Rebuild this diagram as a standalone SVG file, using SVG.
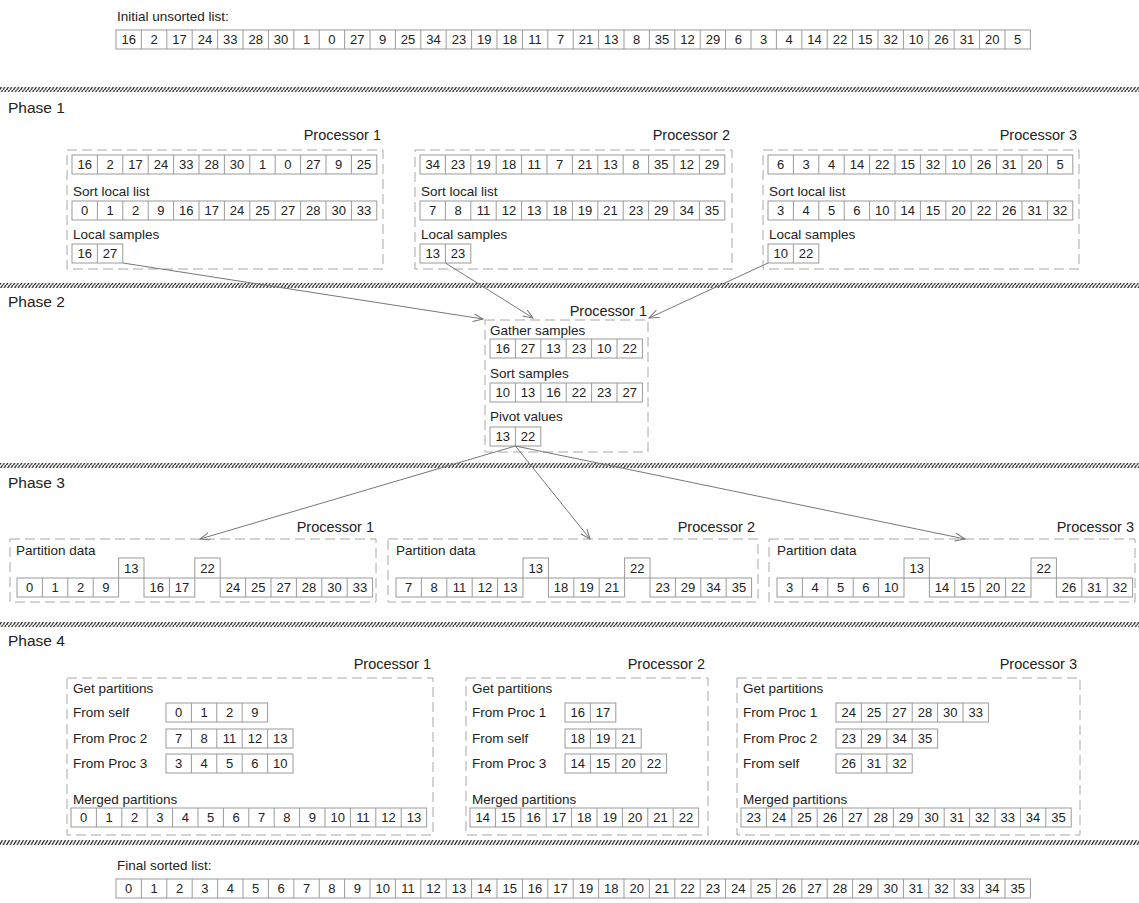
<svg xmlns="http://www.w3.org/2000/svg" width="1139" height="903" viewBox="0 0 1139 903">
<style>
text{font-family:"Liberation Sans",Arial,sans-serif;fill:#222}
.c{fill:#fff;stroke:#9a9a9a;stroke-width:1}
.dv{fill:none;stroke:#9a9a9a;stroke-width:1}
.n{font-size:13px;text-anchor:middle}
.l{font-size:13.5px}
.pr{font-size:14.5px;text-anchor:end}
.ph{font-size:15.5px}
.box{fill:none;stroke:#a8a8a8;stroke-width:1;stroke-dasharray:10 5}
.sep{fill:url(#hatch)}
.arr{fill:none;stroke:#777;stroke-width:1;marker-end:url(#ah)}
</style>
<defs>
<pattern id="hatch" width="3.5" height="5" patternUnits="userSpaceOnUse"><path d="M-0.5,5 L2.5,0 M3,5 L6,0" stroke="#222" stroke-width="1.3"/></pattern>
<marker id="ah" markerWidth="12" markerHeight="10" refX="10" refY="4" orient="auto" markerUnits="userSpaceOnUse"><path d="M0,0 L10,4 L0,8" fill="none" stroke="#777" stroke-width="1"/></marker>
</defs>
<rect width="1139" height="903" fill="#fff"/>

<g id="separators">
<rect class="sep" x="0" y="87" width="1139" height="5"/>
<rect class="sep" x="0" y="283" width="1139" height="5"/>
<rect class="sep" x="0" y="463" width="1139" height="5"/>
<rect class="sep" x="0" y="622" width="1139" height="5"/>
<rect class="sep" x="0" y="840" width="1139" height="5"/>
</g>

<g id="phase-labels">
<text class="ph" x="8" y="113">Phase 1</text>
<text class="ph" x="8" y="307">Phase 2</text>
<text class="ph" x="8" y="488">Phase 3</text>
<text class="ph" x="8" y="646">Phase 4</text>
</g>

<g id="initial-list">
<text class="l" x="117" y="21">Initial unsorted list:</text>
<g transform="translate(116,30)">
<rect class="c" width="914.4" height="19"/>
<path class="dv" d="M25.4,0v19m25.4,-19v19m25.4,-19v19m25.4,-19v19m25.4,-19v19m25.4,-19v19m25.4,-19v19m25.4,-19v19m25.4,-19v19m25.4,-19v19m25.4,-19v19m25.4,-19v19m25.4,-19v19m25.4,-19v19m25.4,-19v19m25.4,-19v19m25.4,-19v19m25.4,-19v19m25.4,-19v19m25.4,-19v19m25.4,-19v19m25.4,-19v19m25.4,-19v19m25.4,-19v19m25.4,-19v19m25.4,-19v19m25.4,-19v19m25.4,-19v19m25.4,-19v19m25.4,-19v19m25.4,-19v19m25.4,-19v19m25.4,-19v19m25.4,-19v19m25.4,-19v19"/>
<text class="n" x="12.7" y="14">16</text><text class="n" x="38.1" y="14">2</text><text class="n" x="63.5" y="14">17</text><text class="n" x="88.9" y="14">24</text><text class="n" x="114.3" y="14">33</text><text class="n" x="139.7" y="14">28</text><text class="n" x="165.1" y="14">30</text><text class="n" x="190.5" y="14">1</text><text class="n" x="215.9" y="14">0</text><text class="n" x="241.3" y="14">27</text><text class="n" x="266.7" y="14">9</text><text class="n" x="292.1" y="14">25</text><text class="n" x="317.5" y="14">34</text><text class="n" x="342.9" y="14">23</text><text class="n" x="368.3" y="14">19</text><text class="n" x="393.7" y="14">18</text><text class="n" x="419.1" y="14">11</text><text class="n" x="444.5" y="14">7</text><text class="n" x="469.9" y="14">21</text><text class="n" x="495.3" y="14">13</text><text class="n" x="520.7" y="14">8</text><text class="n" x="546.1" y="14">35</text><text class="n" x="571.5" y="14">12</text><text class="n" x="596.9" y="14">29</text><text class="n" x="622.3" y="14">6</text><text class="n" x="647.7" y="14">3</text><text class="n" x="673.1" y="14">4</text><text class="n" x="698.5" y="14">14</text><text class="n" x="723.9" y="14">22</text><text class="n" x="749.3" y="14">15</text><text class="n" x="774.7" y="14">32</text><text class="n" x="800.1" y="14">10</text><text class="n" x="825.5" y="14">26</text><text class="n" x="850.9" y="14">31</text><text class="n" x="876.3" y="14">20</text><text class="n" x="901.7" y="14">5</text>
</g>
</g>

<g id="p1-proc1">
<text class="pr" x="381" y="140">Processor 1</text>
<rect class="box" x="67" y="150" width="316" height="119"/>
<g transform="translate(72,155)">
<rect class="c" width="304.8" height="19"/>
<path class="dv" d="M25.4,0v19m25.4,-19v19m25.4,-19v19m25.4,-19v19m25.4,-19v19m25.4,-19v19m25.4,-19v19m25.4,-19v19m25.4,-19v19m25.4,-19v19m25.4,-19v19"/>
<text class="n" x="12.7" y="14">16</text><text class="n" x="38.1" y="14">2</text><text class="n" x="63.5" y="14">17</text><text class="n" x="88.9" y="14">24</text><text class="n" x="114.3" y="14">33</text><text class="n" x="139.7" y="14">28</text><text class="n" x="165.1" y="14">30</text><text class="n" x="190.5" y="14">1</text><text class="n" x="215.9" y="14">0</text><text class="n" x="241.3" y="14">27</text><text class="n" x="266.7" y="14">9</text><text class="n" x="292.1" y="14">25</text>
</g>
<text class="l" x="73" y="196">Sort local list</text>
<g transform="translate(72,201)">
<rect class="c" width="304.8" height="19"/>
<path class="dv" d="M25.4,0v19m25.4,-19v19m25.4,-19v19m25.4,-19v19m25.4,-19v19m25.4,-19v19m25.4,-19v19m25.4,-19v19m25.4,-19v19m25.4,-19v19m25.4,-19v19"/>
<text class="n" x="12.7" y="14">0</text><text class="n" x="38.1" y="14">1</text><text class="n" x="63.5" y="14">2</text><text class="n" x="88.9" y="14">9</text><text class="n" x="114.3" y="14">16</text><text class="n" x="139.7" y="14">17</text><text class="n" x="165.1" y="14">24</text><text class="n" x="190.5" y="14">25</text><text class="n" x="215.9" y="14">27</text><text class="n" x="241.3" y="14">28</text><text class="n" x="266.7" y="14">30</text><text class="n" x="292.1" y="14">33</text>
</g>
<text class="l" x="73" y="239">Local samples</text>
<g transform="translate(72,244)">
<rect class="c" width="50.8" height="19"/><path class="dv" d="M25.4,0v19"/>
<text class="n" x="12.7" y="14">16</text><text class="n" x="38.1" y="14">27</text>
</g>
</g>

<g id="p1-proc2">
<text class="pr" x="730" y="140">Processor 2</text>
<rect class="box" x="415" y="150" width="317" height="119"/>
<g transform="translate(420,155)">
<rect class="c" width="304.8" height="19"/>
<path class="dv" d="M25.4,0v19m25.4,-19v19m25.4,-19v19m25.4,-19v19m25.4,-19v19m25.4,-19v19m25.4,-19v19m25.4,-19v19m25.4,-19v19m25.4,-19v19m25.4,-19v19"/>
<text class="n" x="12.7" y="14">34</text><text class="n" x="38.1" y="14">23</text><text class="n" x="63.5" y="14">19</text><text class="n" x="88.9" y="14">18</text><text class="n" x="114.3" y="14">11</text><text class="n" x="139.7" y="14">7</text><text class="n" x="165.1" y="14">21</text><text class="n" x="190.5" y="14">13</text><text class="n" x="215.9" y="14">8</text><text class="n" x="241.3" y="14">35</text><text class="n" x="266.7" y="14">12</text><text class="n" x="292.1" y="14">29</text>
</g>
<text class="l" x="421" y="196">Sort local list</text>
<g transform="translate(420,201)">
<rect class="c" width="304.8" height="19"/>
<path class="dv" d="M25.4,0v19m25.4,-19v19m25.4,-19v19m25.4,-19v19m25.4,-19v19m25.4,-19v19m25.4,-19v19m25.4,-19v19m25.4,-19v19m25.4,-19v19m25.4,-19v19"/>
<text class="n" x="12.7" y="14">7</text><text class="n" x="38.1" y="14">8</text><text class="n" x="63.5" y="14">11</text><text class="n" x="88.9" y="14">12</text><text class="n" x="114.3" y="14">13</text><text class="n" x="139.7" y="14">18</text><text class="n" x="165.1" y="14">19</text><text class="n" x="190.5" y="14">21</text><text class="n" x="215.9" y="14">23</text><text class="n" x="241.3" y="14">29</text><text class="n" x="266.7" y="14">34</text><text class="n" x="292.1" y="14">35</text>
</g>
<text class="l" x="421" y="239">Local samples</text>
<g transform="translate(420,244)">
<rect class="c" width="50.8" height="19"/><path class="dv" d="M25.4,0v19"/>
<text class="n" x="12.7" y="14">13</text><text class="n" x="38.1" y="14">23</text>
</g>
</g>

<g id="p1-proc3">
<text class="pr" x="1077" y="140">Processor 3</text>
<rect class="box" x="763" y="150" width="316" height="119"/>
<g transform="translate(768,155)">
<rect class="c" width="304.8" height="19"/>
<path class="dv" d="M25.4,0v19m25.4,-19v19m25.4,-19v19m25.4,-19v19m25.4,-19v19m25.4,-19v19m25.4,-19v19m25.4,-19v19m25.4,-19v19m25.4,-19v19m25.4,-19v19"/>
<text class="n" x="12.7" y="14">6</text><text class="n" x="38.1" y="14">3</text><text class="n" x="63.5" y="14">4</text><text class="n" x="88.9" y="14">14</text><text class="n" x="114.3" y="14">22</text><text class="n" x="139.7" y="14">15</text><text class="n" x="165.1" y="14">32</text><text class="n" x="190.5" y="14">10</text><text class="n" x="215.9" y="14">26</text><text class="n" x="241.3" y="14">31</text><text class="n" x="266.7" y="14">20</text><text class="n" x="292.1" y="14">5</text>
</g>
<text class="l" x="769" y="196">Sort local list</text>
<g transform="translate(768,201)">
<rect class="c" width="304.8" height="19"/>
<path class="dv" d="M25.4,0v19m25.4,-19v19m25.4,-19v19m25.4,-19v19m25.4,-19v19m25.4,-19v19m25.4,-19v19m25.4,-19v19m25.4,-19v19m25.4,-19v19m25.4,-19v19"/>
<text class="n" x="12.7" y="14">3</text><text class="n" x="38.1" y="14">4</text><text class="n" x="63.5" y="14">5</text><text class="n" x="88.9" y="14">6</text><text class="n" x="114.3" y="14">10</text><text class="n" x="139.7" y="14">14</text><text class="n" x="165.1" y="14">15</text><text class="n" x="190.5" y="14">20</text><text class="n" x="215.9" y="14">22</text><text class="n" x="241.3" y="14">26</text><text class="n" x="266.7" y="14">31</text><text class="n" x="292.1" y="14">32</text>
</g>
<text class="l" x="769" y="239">Local samples</text>
<g transform="translate(768,244)">
<rect class="c" width="50.8" height="19"/><path class="dv" d="M25.4,0v19"/>
<text class="n" x="12.7" y="14">10</text><text class="n" x="38.1" y="14">22</text>
</g>
</g>

<g id="p2-proc1">
<text class="pr" x="647" y="316">Processor 1</text>
<rect class="box" x="485" y="320" width="163" height="132"/>
<text class="l" x="490" y="335">Gather samples</text>
<g transform="translate(490,339)">
<rect class="c" width="152.4" height="19"/>
<path class="dv" d="M25.4,0v19m25.4,-19v19m25.4,-19v19m25.4,-19v19m25.4,-19v19"/>
<text class="n" x="12.7" y="14">16</text><text class="n" x="38.1" y="14">27</text><text class="n" x="63.5" y="14">13</text><text class="n" x="88.9" y="14">23</text><text class="n" x="114.3" y="14">10</text><text class="n" x="139.7" y="14">22</text>
</g>
<text class="l" x="490" y="378">Sort samples</text>
<g transform="translate(490,383)">
<rect class="c" width="152.4" height="19"/>
<path class="dv" d="M25.4,0v19m25.4,-19v19m25.4,-19v19m25.4,-19v19m25.4,-19v19"/>
<text class="n" x="12.7" y="14">10</text><text class="n" x="38.1" y="14">13</text><text class="n" x="63.5" y="14">16</text><text class="n" x="88.9" y="14">22</text><text class="n" x="114.3" y="14">23</text><text class="n" x="139.7" y="14">27</text>
</g>
<text class="l" x="490" y="421">Pivot values</text>
<g transform="translate(490,427)">
<rect class="c" width="50.8" height="19"/><path class="dv" d="M25.4,0v19"/>
<text class="n" x="12.7" y="14">13</text><text class="n" x="38.1" y="14">22</text>
</g>
</g>

<g id="p3-proc1">
<text class="pr" x="374" y="532">Processor 1</text>
<rect class="box" x="10" y="539" width="366" height="63"/>
<text class="l" x="16" y="555">Partition data</text>
<g transform="translate(17,558)">
<rect class="c" x="0" y="20" width="101.6" height="19"/><path class="dv" d="M25.4,20v19m25.4,-19v19m25.4,-19v19"/>
<rect class="c" x="101.6" y="0" width="25.4" height="20"/>
<rect class="c" x="127" y="20" width="50.8" height="19"/><path class="dv" d="M152.4,20v19"/>
<rect class="c" x="177.8" y="0" width="25.4" height="20"/>
<rect class="c" x="203.2" y="20" width="152.4" height="19"/><path class="dv" d="M228.6,20v19m25.4,-19v19m25.4,-19v19m25.4,-19v19m25.4,-19v19"/>
<text class="n" x="12.7" y="34">0</text><text class="n" x="38.1" y="34">1</text><text class="n" x="63.5" y="34">2</text><text class="n" x="88.9" y="34">9</text>
<text class="n" x="114.3" y="15">13</text>
<text class="n" x="139.7" y="34">16</text><text class="n" x="165.1" y="34">17</text>
<text class="n" x="190.5" y="15">22</text>
<text class="n" x="215.9" y="34">24</text><text class="n" x="241.3" y="34">25</text><text class="n" x="266.7" y="34">27</text><text class="n" x="292.1" y="34">28</text><text class="n" x="317.5" y="34">30</text><text class="n" x="342.9" y="34">33</text>
</g>
</g>

<g id="p3-proc2">
<text class="pr" x="755" y="532">Processor 2</text>
<rect class="box" x="388" y="539" width="370" height="63"/>
<text class="l" x="396" y="555">Partition data</text>
<g transform="translate(396,558)">
<rect class="c" x="0" y="20" width="127" height="19"/><path class="dv" d="M25.4,20v19m25.4,-19v19m25.4,-19v19m25.4,-19v19"/>
<rect class="c" x="127" y="0" width="25.4" height="20"/>
<rect class="c" x="152.4" y="20" width="76.2" height="19"/><path class="dv" d="M177.8,20v19m25.4,-19v19"/>
<rect class="c" x="228.6" y="0" width="25.4" height="20"/>
<rect class="c" x="254" y="20" width="101.6" height="19"/><path class="dv" d="M279.4,20v19m25.4,-19v19m25.4,-19v19"/>
<text class="n" x="12.7" y="34">7</text><text class="n" x="38.1" y="34">8</text><text class="n" x="63.5" y="34">11</text><text class="n" x="88.9" y="34">12</text><text class="n" x="114.3" y="34">13</text>
<text class="n" x="139.7" y="15">13</text>
<text class="n" x="165.1" y="34">18</text><text class="n" x="190.5" y="34">19</text><text class="n" x="215.9" y="34">21</text>
<text class="n" x="241.3" y="15">22</text>
<text class="n" x="266.7" y="34">23</text><text class="n" x="292.1" y="34">29</text><text class="n" x="317.5" y="34">34</text><text class="n" x="342.9" y="34">35</text>
</g>
</g>

<g id="p3-proc3">
<text class="pr" x="1134" y="532">Processor 3</text>
<rect class="box" x="769" y="539" width="366" height="63"/>
<text class="l" x="777" y="555">Partition data</text>
<g transform="translate(777,558)">
<rect class="c" x="0" y="20" width="127" height="19"/><path class="dv" d="M25.4,20v19m25.4,-19v19m25.4,-19v19m25.4,-19v19"/>
<rect class="c" x="127" y="0" width="25.4" height="20"/>
<rect class="c" x="152.4" y="20" width="101.6" height="19"/><path class="dv" d="M177.8,20v19m25.4,-19v19m25.4,-19v19"/>
<rect class="c" x="254" y="0" width="25.4" height="20"/>
<rect class="c" x="279.4" y="20" width="76.2" height="19"/><path class="dv" d="M304.8,20v19m25.4,-19v19"/>
<text class="n" x="12.7" y="34">3</text><text class="n" x="38.1" y="34">4</text><text class="n" x="63.5" y="34">5</text><text class="n" x="88.9" y="34">6</text><text class="n" x="114.3" y="34">10</text>
<text class="n" x="139.7" y="15">13</text>
<text class="n" x="165.1" y="34">14</text><text class="n" x="190.5" y="34">15</text><text class="n" x="215.9" y="34">20</text><text class="n" x="241.3" y="34">22</text>
<text class="n" x="266.7" y="15">22</text>
<text class="n" x="292.1" y="34">26</text><text class="n" x="317.5" y="34">31</text><text class="n" x="342.9" y="34">32</text>
</g>
</g>

<g id="p4-proc1">
<text class="pr" x="431" y="669">Processor 1</text>
<rect class="box" x="67" y="678" width="366" height="157"/>
<text class="l" x="73" y="693">Get partitions</text>
<text class="l" x="73" y="717">From self</text>
<g transform="translate(166,703)"><rect class="c" width="101.6" height="19"/><path class="dv" d="M25.4,0v19m25.4,-19v19m25.4,-19v19"/>
<text class="n" x="12.7" y="14">0</text><text class="n" x="38.1" y="14">1</text><text class="n" x="63.5" y="14">2</text><text class="n" x="88.9" y="14">9</text></g>
<text class="l" x="73" y="743">From Proc 2</text>
<g transform="translate(166,729)"><rect class="c" width="127" height="19"/><path class="dv" d="M25.4,0v19m25.4,-19v19m25.4,-19v19m25.4,-19v19"/>
<text class="n" x="12.7" y="14">7</text><text class="n" x="38.1" y="14">8</text><text class="n" x="63.5" y="14">11</text><text class="n" x="88.9" y="14">12</text><text class="n" x="114.3" y="14">13</text></g>
<text class="l" x="73" y="768">From Proc 3</text>
<g transform="translate(166,754)"><rect class="c" width="127" height="19"/><path class="dv" d="M25.4,0v19m25.4,-19v19m25.4,-19v19m25.4,-19v19"/>
<text class="n" x="12.7" y="14">3</text><text class="n" x="38.1" y="14">4</text><text class="n" x="63.5" y="14">5</text><text class="n" x="88.9" y="14">6</text><text class="n" x="114.3" y="14">10</text></g>
<text class="l" x="73" y="804">Merged partitions</text>
<g transform="translate(71,808)"><rect class="c" width="355.6" height="19"/><path class="dv" d="M25.4,0v19m25.4,-19v19m25.4,-19v19m25.4,-19v19m25.4,-19v19m25.4,-19v19m25.4,-19v19m25.4,-19v19m25.4,-19v19m25.4,-19v19m25.4,-19v19m25.4,-19v19m25.4,-19v19"/>
<text class="n" x="12.7" y="14">0</text><text class="n" x="38.1" y="14">1</text><text class="n" x="63.5" y="14">2</text><text class="n" x="88.9" y="14">3</text><text class="n" x="114.3" y="14">4</text><text class="n" x="139.7" y="14">5</text><text class="n" x="165.1" y="14">6</text><text class="n" x="190.5" y="14">7</text><text class="n" x="215.9" y="14">8</text><text class="n" x="241.3" y="14">9</text><text class="n" x="266.7" y="14">10</text><text class="n" x="292.1" y="14">11</text><text class="n" x="317.5" y="14">12</text><text class="n" x="342.9" y="14">13</text></g>
</g>

<g id="p4-proc2">
<text class="pr" x="705" y="669">Processor 2</text>
<rect class="box" x="466" y="678" width="242" height="157"/>
<text class="l" x="472" y="693">Get partitions</text>
<text class="l" x="472" y="717">From Proc 1</text>
<g transform="translate(565,703)"><rect class="c" width="50.8" height="19"/><path class="dv" d="M25.4,0v19"/>
<text class="n" x="12.7" y="14">16</text><text class="n" x="38.1" y="14">17</text></g>
<text class="l" x="472" y="743">From self</text>
<g transform="translate(565,729)"><rect class="c" width="76.2" height="19"/><path class="dv" d="M25.4,0v19m25.4,-19v19"/>
<text class="n" x="12.7" y="14">18</text><text class="n" x="38.1" y="14">19</text><text class="n" x="63.5" y="14">21</text></g>
<text class="l" x="472" y="768">From Proc 3</text>
<g transform="translate(565,754)"><rect class="c" width="101.6" height="19"/><path class="dv" d="M25.4,0v19m25.4,-19v19m25.4,-19v19"/>
<text class="n" x="12.7" y="14">14</text><text class="n" x="38.1" y="14">15</text><text class="n" x="63.5" y="14">20</text><text class="n" x="88.9" y="14">22</text></g>
<text class="l" x="472" y="804">Merged partitions</text>
<g transform="translate(470,808)"><rect class="c" width="228.6" height="19"/><path class="dv" d="M25.4,0v19m25.4,-19v19m25.4,-19v19m25.4,-19v19m25.4,-19v19m25.4,-19v19m25.4,-19v19m25.4,-19v19"/>
<text class="n" x="12.7" y="14">14</text><text class="n" x="38.1" y="14">15</text><text class="n" x="63.5" y="14">16</text><text class="n" x="88.9" y="14">17</text><text class="n" x="114.3" y="14">18</text><text class="n" x="139.7" y="14">19</text><text class="n" x="165.1" y="14">20</text><text class="n" x="190.5" y="14">21</text><text class="n" x="215.9" y="14">22</text></g>
</g>

<g id="p4-proc3">
<text class="pr" x="1077" y="669">Processor 3</text>
<rect class="box" x="737" y="678" width="343" height="157"/>
<text class="l" x="743" y="693">Get partitions</text>
<text class="l" x="743" y="717">From Proc 1</text>
<g transform="translate(836,703)"><rect class="c" width="152.4" height="19"/><path class="dv" d="M25.4,0v19m25.4,-19v19m25.4,-19v19m25.4,-19v19m25.4,-19v19"/>
<text class="n" x="12.7" y="14">24</text><text class="n" x="38.1" y="14">25</text><text class="n" x="63.5" y="14">27</text><text class="n" x="88.9" y="14">28</text><text class="n" x="114.3" y="14">30</text><text class="n" x="139.7" y="14">33</text></g>
<text class="l" x="743" y="743">From Proc 2</text>
<g transform="translate(836,729)"><rect class="c" width="101.6" height="19"/><path class="dv" d="M25.4,0v19m25.4,-19v19m25.4,-19v19"/>
<text class="n" x="12.7" y="14">23</text><text class="n" x="38.1" y="14">29</text><text class="n" x="63.5" y="14">34</text><text class="n" x="88.9" y="14">35</text></g>
<text class="l" x="743" y="768">From self</text>
<g transform="translate(836,754)"><rect class="c" width="76.2" height="19"/><path class="dv" d="M25.4,0v19m25.4,-19v19"/>
<text class="n" x="12.7" y="14">26</text><text class="n" x="38.1" y="14">31</text><text class="n" x="63.5" y="14">32</text></g>
<text class="l" x="743" y="804">Merged partitions</text>
<g transform="translate(741,808)"><rect class="c" width="330.2" height="19"/><path class="dv" d="M25.4,0v19m25.4,-19v19m25.4,-19v19m25.4,-19v19m25.4,-19v19m25.4,-19v19m25.4,-19v19m25.4,-19v19m25.4,-19v19m25.4,-19v19m25.4,-19v19m25.4,-19v19"/>
<text class="n" x="12.7" y="14">23</text><text class="n" x="38.1" y="14">24</text><text class="n" x="63.5" y="14">25</text><text class="n" x="88.9" y="14">26</text><text class="n" x="114.3" y="14">27</text><text class="n" x="139.7" y="14">28</text><text class="n" x="165.1" y="14">29</text><text class="n" x="190.5" y="14">30</text><text class="n" x="215.9" y="14">31</text><text class="n" x="241.3" y="14">32</text><text class="n" x="266.7" y="14">33</text><text class="n" x="292.1" y="14">34</text><text class="n" x="317.5" y="14">35</text></g>
</g>

<g id="final-list">
<text class="l" x="117" y="870">Final sorted list:</text>
<g transform="translate(116,879)">
<rect class="c" width="914.4" height="19"/>
<path class="dv" d="M25.4,0v19m25.4,-19v19m25.4,-19v19m25.4,-19v19m25.4,-19v19m25.4,-19v19m25.4,-19v19m25.4,-19v19m25.4,-19v19m25.4,-19v19m25.4,-19v19m25.4,-19v19m25.4,-19v19m25.4,-19v19m25.4,-19v19m25.4,-19v19m25.4,-19v19m25.4,-19v19m25.4,-19v19m25.4,-19v19m25.4,-19v19m25.4,-19v19m25.4,-19v19m25.4,-19v19m25.4,-19v19m25.4,-19v19m25.4,-19v19m25.4,-19v19m25.4,-19v19m25.4,-19v19m25.4,-19v19m25.4,-19v19m25.4,-19v19m25.4,-19v19m25.4,-19v19"/>
<text class="n" x="12.7" y="14">0</text><text class="n" x="38.1" y="14">1</text><text class="n" x="63.5" y="14">2</text><text class="n" x="88.9" y="14">3</text><text class="n" x="114.3" y="14">4</text><text class="n" x="139.7" y="14">5</text><text class="n" x="165.1" y="14">6</text><text class="n" x="190.5" y="14">7</text><text class="n" x="215.9" y="14">8</text><text class="n" x="241.3" y="14">9</text><text class="n" x="266.7" y="14">10</text><text class="n" x="292.1" y="14">11</text><text class="n" x="317.5" y="14">12</text><text class="n" x="342.9" y="14">13</text><text class="n" x="368.3" y="14">14</text><text class="n" x="393.7" y="14">15</text><text class="n" x="419.1" y="14">16</text><text class="n" x="444.5" y="14">17</text><text class="n" x="469.9" y="14">19</text><text class="n" x="495.3" y="14">18</text><text class="n" x="520.7" y="14">20</text><text class="n" x="546.1" y="14">21</text><text class="n" x="571.5" y="14">22</text><text class="n" x="596.9" y="14">23</text><text class="n" x="622.3" y="14">24</text><text class="n" x="647.7" y="14">25</text><text class="n" x="673.1" y="14">26</text><text class="n" x="698.5" y="14">27</text><text class="n" x="723.9" y="14">28</text><text class="n" x="749.3" y="14">29</text><text class="n" x="774.7" y="14">30</text><text class="n" x="800.1" y="14">31</text><text class="n" x="825.5" y="14">32</text><text class="n" x="850.9" y="14">33</text><text class="n" x="876.3" y="14">34</text><text class="n" x="901.7" y="14">35</text>
</g>
</g>

<g id="connectors">
<path class="arr" d="M123,263 L483,319"/>
<path class="arr" d="M445.4,263 L533,318"/>
<path class="arr" d="M768,263 L649,318"/>
<path class="arr" d="M515.4,446 L200,539"/>
<path class="arr" d="M515.4,446 L590,539"/>
<path class="arr" d="M515.4,446 L965,539"/>
</g>
</svg>
